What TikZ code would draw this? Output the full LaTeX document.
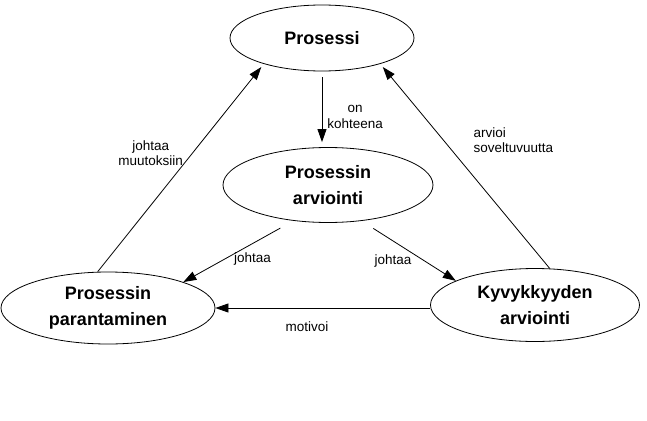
\documentclass[tikz,border=0pt]{standalone}
\usepackage{fontspec}
\setmainfont{Liberation Sans}
\usetikzlibrary{positioning,arrows.meta,shapes.geometric}

\begin{document}
\begin{tikzpicture}[
  x=1pt, y=-1pt,
  >={Triangle[length=13pt, width=9pt]},
  state/.style={ellipse, draw, line width=0.8pt, inner sep=0pt, align=center,
                font=\fontsize{18}{26}\selectfont\bfseries},
  flow/.style={->, line width=0.8pt},
  lbl/.style={font=\fontsize{13.5}{15.5}\selectfont, inner sep=2pt, align=center}
]
\useasboundingbox (0,0) rectangle (647,420);

\node[state, minimum width=184pt, minimum height=66pt] (proc) at (322,38) {Prosessi};
\node[state, minimum width=210pt, minimum height=75pt] (arvi) at (328,185) {Prosessin\\arviointi};
\node[state, minimum width=214pt, minimum height=72pt] (para) at (108,308) {Prosessin\\parantaminen};
\node[state, minimum width=209pt, minimum height=73pt] (kyvy) at (535,305) {Kyvykkyyden\\arviointi};

\draw[flow, shorten <=6pt, shorten >=5pt] (proc.south) -- (proc.south |- arvi.north)
  node[lbl, pos=0.6, right=3pt] (onko) {on\\kohteena};
\draw[flow, shorten >=4pt] (para.106) -- (proc.204)
  node[lbl, pos=0.57, left=7pt] (muut) {johtaa\\muutoksiin};
\draw[flow, shorten >=4pt] (kyvy.68) -- (proc.336)
  node[lbl, pos=0.628, right=28pt, align=left] (sove) {arvioi\\soveltuvuutta};
\draw[flow, shorten <=15pt] (arvi.226) -- (para.19)
  node[lbl, pos=0.56, anchor=west, yshift=-4pt] (joh1) {johtaa};
\draw[flow, shorten <=14pt] (arvi.313) -- (kyvy.163)
  node[lbl, pos=0.554, anchor=east, yshift=-7pt] (joh2) {johtaa};
\draw[flow] (kyvy.west |- para.east) -- (para.east)
  node[lbl, pos=0.573, below=11pt] (moti) {motivoi};

\end{tikzpicture}
\end{document}
